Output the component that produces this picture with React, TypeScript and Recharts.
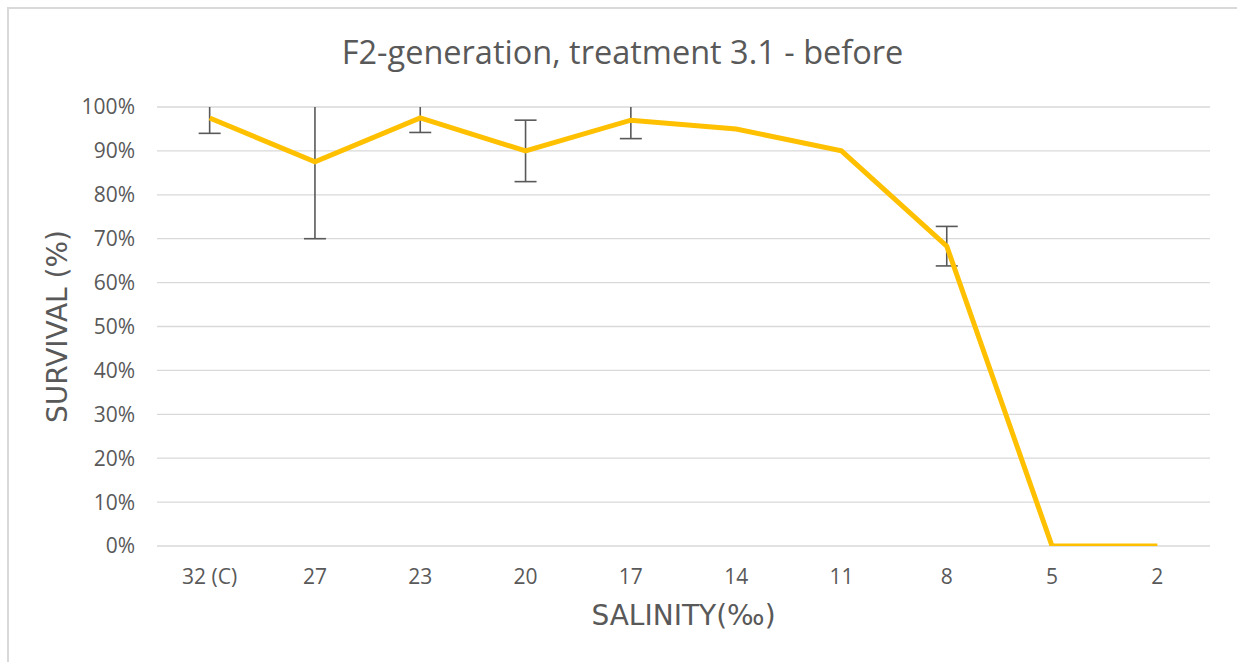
import React from "react";
import {
  ComposedChart,
  Line,
  XAxis,
  YAxis,
  CartesianGrid,
  ErrorBar,
  Label,
} from "recharts";

const salinity = ["32 (C)", "27", "23", "20", "17", "14", "11", "8", "5", "2"];
const survival = [97.5, 87.5, 97.5, 90, 97, 95, 90, 68.3, 0, 0];
const errorSize = [3.5, 17.5, 3.3, 7, 4.2, 0, 0, 4.5, 0, 0];
const yTicks = [0, 10, 20, 30, 40, 50, 60, 70, 80, 90, 100];

const data = salinity.map((s, i) => ({
  salinity: s,
  survival: survival[i],
  err: errorSize[i],
}));

const FONT = "'Open Sans', sans-serif";
const AXIS_FONT = "'DejaVu Sans', sans-serif";
const TEXT = "#595959";

// plot area (for clipping the error bars at 100%, like Excel does)
const PLOT = { left: 157, top: 107, right: 1210, bottom: 546 };

export default function App() {
  return (
    <div style={{ position: "absolute", left: 0, top: 0, width: 1237, height: 662, background: "#fff", overflow: "hidden", fontFamily: FONT }}>
      <style>{`.recharts-errorBars, .recharts-errorBar { clip-path: url(#plotClip); }`}</style>
      <svg width={0} height={0} style={{ position: "absolute" }}>
        <defs>
          <clipPath id="plotClip" clipPathUnits="userSpaceOnUse">
            <rect
              x={PLOT.left}
              y={PLOT.top}
              width={PLOT.right - PLOT.left}
              height={PLOT.bottom - PLOT.top + 10}
            />
          </clipPath>
        </defs>
      </svg>
      {/* chart frame, only top/left edge visible in crop */}
      <div style={{ position: "absolute", left: 7, top: 7, width: 1300, height: 700, border: "2px solid #d9d9d9" }} />
      <div style={{ position: "absolute", left: 0, width: 1245, top: 29, textAlign: "center", fontSize: 32.5, color: TEXT }}>
        F2-generation, treatment 3.1 - before
      </div>
      <div style={{ position: "absolute", left: 0, top: 0 }}>
        <ComposedChart
          width={1237}
          height={662}
          data={data}
          margin={{ top: PLOT.top, right: 1237 - PLOT.right, bottom: 56, left: 0 }}
        >
          <CartesianGrid vertical={false} stroke="#d9d9d9" strokeWidth={1.3} />
          <XAxis
            dataKey="salinity"
            scale="band"
            axisLine={false}
            tickLine={false}
            tickSize={0}
            tickMargin={23}
            height={60}
            tick={{ fill: TEXT, fontSize: 21, fontFamily: FONT }}
            interval={0}
          >
            <Label
              content={({ viewBox }: any) => (
                <text
                  x={viewBox.x + viewBox.width / 2}
                  y={625}
                  textAnchor="middle"
                  fill={TEXT}
                  fontSize={28}
                  fontFamily={AXIS_FONT}
                >
                  SALINITY(‰)
                </text>
              )}
            />
          </XAxis>
          <YAxis
            domain={[0, 100]}
            ticks={yTicks}
            allowDataOverflow
            width={PLOT.left}
            axisLine={false}
            tickLine={false}
            tickSize={0}
            tickMargin={22}
            tickFormatter={(v: number) => `${v}%`}
            tick={{ fill: TEXT, fontSize: 21, fontFamily: FONT }}
          >
            <Label
              content={({ viewBox }: any) => (
                <text
                  x={67}
                  y={viewBox.y + viewBox.height / 2}
                  transform={`rotate(-90 67 ${viewBox.y + viewBox.height / 2})`}
                  textAnchor="middle"
                  fill={TEXT}
                  fontSize={28}
                  fontFamily={AXIS_FONT}
                >
                  SURVIVAL (%)
                </text>
              )}
            />
          </YAxis>
          <Line
            type="linear"
            dataKey="survival"
            stroke="#FFC000"
            strokeWidth={5}
            dot={false}
            activeDot={false}
            isAnimationActive={false}
          >
            <ErrorBar
              dataKey="err"
              direction="y"
              width={11}
              stroke="#595959"
              strokeWidth={1.6}
              isAnimationActive={false}
            />
          </Line>
        </ComposedChart>
      </div>
    </div>
  );
}
